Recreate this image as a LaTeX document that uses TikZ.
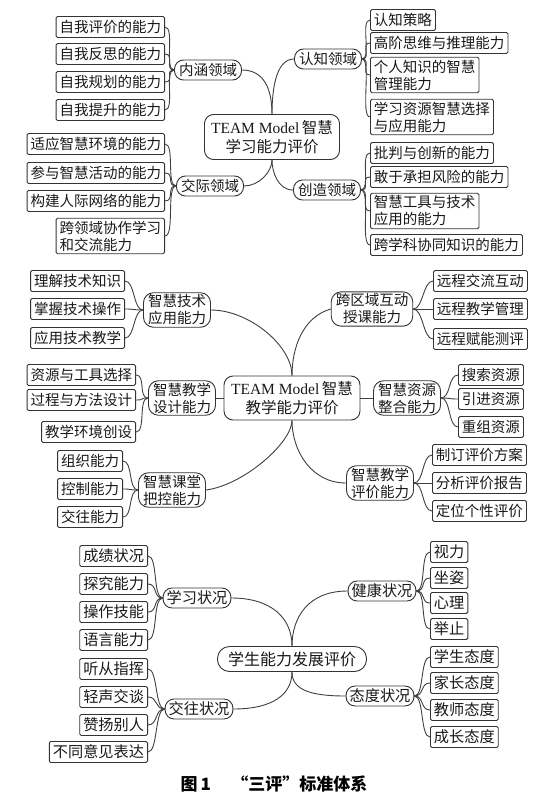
\documentclass[tikz,border=0pt]{standalone}
\usepackage{fontspec}
\setmainfont{Noto Sans CJK SC}
\newfontfamily\lat{Liberation Serif}
\usetikzlibrary{calc}
\newcommand\conL[2]{\draw[link] (#1.west) .. controls +(-10,0) and +(10,0) .. (#2.east);}
\newcommand\conR[2]{\draw[link] (#1.east) .. controls +(10,0) and +(-10,0) .. (#2.west);}
\begin{document}
\begin{tikzpicture}[x=1pt,y=-1pt,
  leaf/.style={draw=black!80, line width=0.9pt, rounded corners=1.5pt, inner xsep=3.5pt, inner ysep=2.5pt, minimum height=21pt, font=\fontsize{14.5}{17}\selectfont, align=left, text=black!90},
  leafL/.style={leaf, anchor=east},
  leafR/.style={leaf, anchor=west},
  leafB/.style={font=\fontsize{15.2}{17}\selectfont, inner xsep=3.5pt},
  mid/.style={draw=black!80, line width=0.9pt, rounded corners=9pt, inner xsep=4.5pt, inner ysep=2.5pt, minimum height=20pt, font=\fontsize{14.5}{17}\selectfont, align=center, text=black!90},
  hub/.style={draw=black!80, line width=0.9pt, rounded corners=9pt, inner xsep=6pt, inner ysep=3.5pt, font=\fontsize{15.5}{19.5}\selectfont, align=center, text=black!90},
  link/.style={draw=black!75, line width=0.9pt},
]
\fill[white] (0,0) rectangle (538,800);
\useasboundingbox (0,0) rectangle (538,800);

% ===== Section 1 =====
\node[hub, minimum width=135pt, minimum height=45pt] (c1) at (272,137) {{\lat TEAM Model}\,智慧\\学习能力评价};
\node[mid] (nh) at (208,70) {内涵领域};
\node[mid] (rz) at (328,59) {认知领域};
\node[mid] (jj) at (210,186) {交际领域};
\node[mid] (cz) at (327,190) {创造领域};

\node[leafL] (nh1) at (165,27) {自我评价的能力};
\node[leafL] (nh2) at (165,54) {自我反思的能力};
\node[leafL] (nh3) at (165,82) {自我规划的能力};
\node[leafL] (nh4) at (165,110) {自我提升的能力};

\node[leafR] (rz1) at (370,20) {认知策略};
\node[leafR] (rz2) at (370,43) {高阶思维与推理能力};
\node[leafR] (rz3) at (370,75) {个人知识的智慧\\管理能力};
\node[leafR] (rz4) at (370,117) {学习资源智慧选择\\与应用能力};

\node[leafL] (jj1) at (165,144) {适应智慧环境的能力};
\node[leafL] (jj2) at (165,173) {参与智慧活动的能力};
\node[leafL] (jj3) at (165,201) {构建人际网络的能力};
\node[leafL] (jj4) at (165,236) {跨领域协作学习\\和交流能力};

\node[leafR] (cz1) at (370,153) {批判与创新的能力};
\node[leafR] (cz2) at (370,177) {敢于承担风险的能力};
\node[leafR] (cz3) at (370,211) {智慧工具与技术\\应用的能力};
\node[leafR] (cz4) at (370,245) {跨学科协同知识的能力};

\foreach \i in {1,...,4} {\conL{nh}{nh\i} \conR{rz}{rz\i} \conL{jj}{jj\i} \conR{cz}{cz\i}}

\draw[link] (nh.east) .. controls +(22,0) and +(0,-25) .. (c1.north);
\draw[link] (rz.west) .. controls +(-18,0) and +(0,-25) .. (c1.north);
\draw[link] (jj.east) .. controls +(15,0) and +(0,12) .. (c1.south);
\draw[link] (cz.west) .. controls +(-15,0) and +(0,12) .. (c1.south);

% ===== Section 2 =====
\node[hub, minimum width=136pt, minimum height=44pt] (c2) at (292,398) {{\lat TEAM Model}\,智慧\\教学能力评价};
\node[mid, rounded corners=10pt, inner ysep=2pt] (js) at (177,310) {智慧技术\\应用能力};
\node[mid, rounded corners=10pt, inner ysep=2pt] (kq) at (372,309) {跨区域互动\\授课能力};
\node[mid, rounded corners=10pt, inner ysep=2pt] (sj) at (182,398) {智慧教学\\设计能力};
\node[mid, rounded corners=10pt, inner ysep=2pt] (zy) at (407,398) {智慧资源\\整合能力};
\node[mid, rounded corners=10pt, inner ysep=2pt] (kt) at (172,490) {智慧课堂\\把控能力};
\node[mid, rounded corners=10pt, inner ysep=2pt] (pj) at (380,483) {智慧教学\\评价能力};

\node[leafL] (js1) at (125,281) {理解技术知识};
\node[leafL] (js2) at (125,309) {掌握技术操作};
\node[leafL] (js3) at (125,338) {应用技术教学};

\node[leafR] (kq1) at (433,281) {远程交流互动};
\node[leafR] (kq2) at (433,309) {远程教学管理};
\node[leafR] (kq3) at (433,339) {远程赋能测评};

\node[leafL] (sj1) at (136,375) {资源与工具选择};
\node[leafL] (sj2) at (136,400) {过程与方法设计};
\node[leafL] (sj3) at (136,432) {教学环境创设};

\node[leafR] (zy1) at (458,375) {搜索资源};
\node[leafR] (zy2) at (458,399) {引进资源};
\node[leafR] (zy3) at (458,427) {重组资源};

\node[leafL] (kt1) at (123,461) {组织能力};
\node[leafL] (kt2) at (123,489) {控制能力};
\node[leafL] (kt3) at (123,517) {交往能力};

\node[leafR] (pj1) at (432,455) {制订评价方案};
\node[leafR] (pj2) at (432,483) {分析评价报告};
\node[leafR] (pj3) at (432,511) {定位个性评价};

\foreach \i in {1,2,3} {\conL{js}{js\i} \conR{kq}{kq\i} \conL{sj}{sj\i} \conR{zy}{zy\i} \conL{kt}{kt\i} \conR{pj}{pj\i}}

\draw[link] (js.east) .. controls +(38,0) and +(0,-30) .. (c2.north);
\draw[link] (kq.west) .. controls +(-28,8) and +(0,-28) .. (c2.north);
\draw[link] (sj.east) -- (c2.west);
\draw[link] (c2.east) -- (zy.west);
\draw[link] (kt.east) .. controls +(38,-5) and +(0,22) .. (c2.south);
\draw[link] (pj.west) .. controls +(-35,0) and +(0,30) .. (c2.south);

% ===== Section 3 =====
\node[hub, rounded corners=12pt, inner ysep=2pt, font=\fontsize{16}{19}\selectfont, minimum width=149pt, minimum height=25pt] (c3) at (292,659) {学生能力发展评价};
\node[mid, leafB] (xx) at (197,598) {学习状况};
\node[mid, leafB] (jk) at (382,591) {健康状况};
\node[mid, leafB] (jw) at (199,709) {交往状况};
\node[mid, leafB] (td) at (380,696) {态度状况};

\node[leafL, leafB] (xx1) at (148,556) {成绩状况};
\node[leafL, leafB] (xx2) at (148,584) {探究能力};
\node[leafL, leafB] (xx3) at (148,612) {操作技能};
\node[leafL, leafB] (xx4) at (148,640) {语言能力};

\node[leafR, leafB] (jk1) at (430,552) {视力};
\node[leafR, leafB] (jk2) at (430,578) {坐姿};
\node[leafR, leafB] (jk3) at (430,603) {心理};
\node[leafR, leafB] (jk4) at (430,629) {举止};

\node[leafL, leafB] (jw1) at (148,669) {听从指挥};
\node[leafL, leafB] (jw2) at (148,697) {轻声交谈};
\node[leafL, leafB] (jw3) at (148,725) {赞扬别人};
\node[leafL, leafB] (jw4) at (148,752) {不同意见表达};

\node[leafR, leafB] (td1) at (430,657) {学生态度};
\node[leafR, leafB] (td2) at (430,683) {家长态度};
\node[leafR, leafB] (td3) at (430,710) {教师态度};
\node[leafR, leafB] (td4) at (430,737) {成长态度};

\foreach \i in {1,...,4} {\conL{xx}{xx\i} \conR{jk}{jk\i} \conL{jw}{jw\i} \conR{td}{td\i}}

\draw[link] (xx.east) .. controls +(40,0) and +(0,-28) .. (c3.north);
\draw[link] (jk.west) .. controls +(-40,0) and +(0,-28) .. (c3.north);
\draw[link] (jw.east) .. controls +(40,0) and +(0,22) .. (c3.south);
\draw[link] (td.west) .. controls +(-35,0) and +(0,18) .. (c3.south);

% ===== Caption =====
\node[font=\fontsize{17}{20}\selectfont\bfseries, inner sep=0pt] (cap) at (274,784) {图\,1\hspace{1.2em}“三评”标准体系};
\end{tikzpicture}
\end{document}
